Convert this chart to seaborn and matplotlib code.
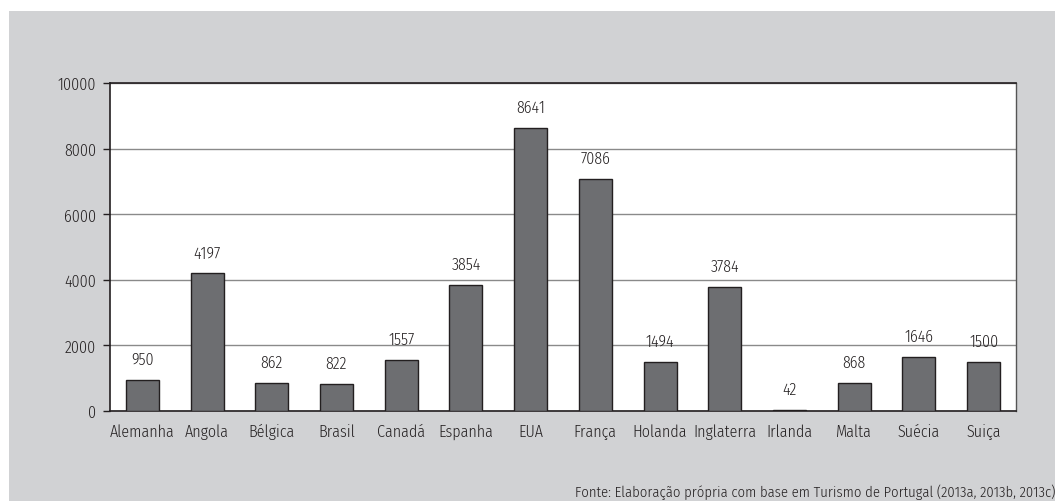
import matplotlib
matplotlib.use("Agg")
import matplotlib.pyplot as plt
from matplotlib.patches import Rectangle
import seaborn as sns
import pandas as pd

paises = ["Alemanha", "Angola", "Bélgica", "Brasil", "Canadá", "Espanha", "EUA",
          "França", "Holanda", "Inglaterra", "Irlanda", "Malta", "Suécia", "Suiça"]
valores = [950, 4197, 862, 822, 1557, 3854, 8641, 7086, 1494, 3784, 42, 868, 1646, 1500]
yticks = [0, 2000, 4000, 6000, 8000, 10000]
fonte = "Fonte: Elaboração própria com base em Turismo de Portugal (2013a, 2013b, 2013c)"

sns.set_style("white")
plt.rcParams['font.family'] = ['Fira Sans Condensed', 'DejaVu Sans']
plt.rcParams['font.weight'] = 300

W, H = 1055, 502
FS = 11.5
TXT = "#231f20"
fig = plt.figure(figsize=(W / 100, H / 100), dpi=100)
fig.patch.set_facecolor("white")
fig.patches.append(Rectangle((9 / W, 0), 1, 1 - 12 / H, transform=fig.transFigure,
                             facecolor="#d1d2d4", edgecolor="none", zorder=-10))

ax = fig.add_axes([110 / W, 1 - 412 / H, (1016 - 110) / W, (412 - 84) / H])
ax.set_facecolor("white")

df = pd.DataFrame({"pais": paises, "valor": valores})
sns.barplot(data=df, x="pais", y="valor", color="#6d6e71", edgecolor="#231f20",
            linewidth=1.0, width=0.51, saturation=1, ax=ax, zorder=3)

ax.set_ylim(0, 10000)
ax.set_xlim(-0.5, len(paises) - 0.5)
ax.set_yticks(yticks)
ax.set_yticklabels([str(v) for v in yticks], fontsize=FS, color=TXT)
ax.yaxis.grid(True, color="#8a8a8a", linewidth=1.0, zorder=0)
ax.set_axisbelow(True)

ax.set_xticks(range(len(paises)))
ax.set_xticklabels(paises, fontsize=FS, color=TXT)
ax.tick_params(axis="x", length=0, pad=9)
ax.set_xticks([i + 0.5 for i in range(-1, len(paises))], minor=True)
ax.tick_params(axis="x", which="minor", length=5, width=1, color=TXT, direction="out")
ax.tick_params(axis="y", length=5, width=1, color=TXT, direction="out", pad=5, left=True)

for s in ["left", "bottom", "top"]:
    ax.spines[s].set_color(TXT)
    ax.spines[s].set_linewidth(1.2)
ax.spines["right"].set_color("#555555")
ax.spines["right"].set_linewidth(1.0)

ax.set_xlabel("")
ax.set_ylabel("")

for i, v in enumerate(valores):
    ax.text(i, v + 380, str(v), ha="center", va="bottom", fontsize=FS, color=TXT)

fig.text(575 / W, 2 / H, fonte, fontsize=10.5, color=TXT, ha="left", va="bottom")

fig.savefig("out.png", dpi=100)
